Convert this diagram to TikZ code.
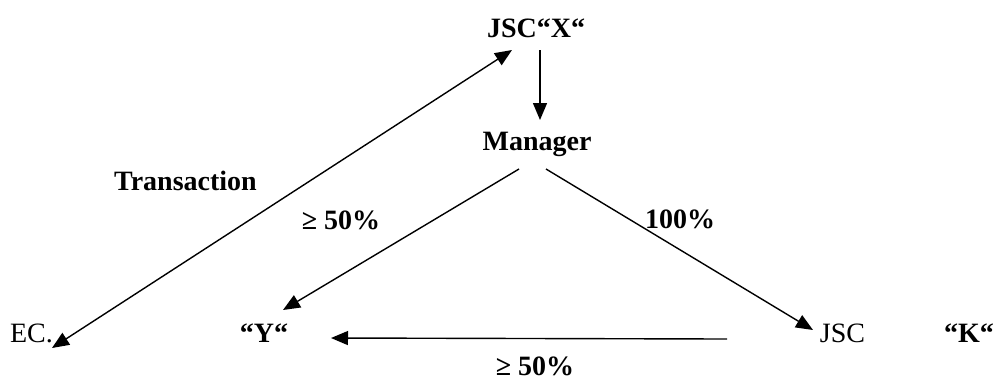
\documentclass[tikz,border=0pt]{standalone}
\usepackage{fontspec}
\setmainfont{Liberation Serif}
\usetikzlibrary{arrows.meta}
\begin{document}
\begin{tikzpicture}[x=0.5pt,y=-0.5pt,
  lbl/.style={inner sep=0pt,outer sep=0pt,anchor=base,font=\fontsize{14}{16}\selectfont\bfseries},
  plain/.style={inner sep=0pt,outer sep=0pt,anchor=base,font=\fontsize{14}{16}\selectfont},
  conn/.style={line width=0.7pt,-{Triangle[length=8.5pt,width=7pt]}},
  biconn/.style={line width=0.7pt,{Triangle[length=8.5pt,width=7pt]}-{Triangle[length=8.5pt,width=7pt]}}]
\path[use as bounding box] (0,0) rectangle (995,381);
% nodes
\node[lbl] (x) at (536,37) {JSC“X“};
\node[lbl] (mgr) at (537,150.5) {Manager};
\node[lbl] (trans) at (185.5,190) {Transaction};
\node[lbl] (pleft) at (341,229) {≥ 50\%};
\node[lbl] (pright) at (680,228) {100\%};
\node[plain] (ec) at (31.5,342) {EC.};
\node[lbl] (y) at (264,342) {“Y“};
\node[plain] (jsc) at (842.5,342) {JSC};
\node[lbl] (k) at (969,342) {“K“};
\node[lbl] (pbot) at (535,375) {≥ 50\%};
% endpoints
\coordinate (xL) at ([shift={(-24,13)}]x.base);
\coordinate (xB) at ([shift={(4,13)}]x.base);
\coordinate (mT) at ([shift={(3,-30.5)}]mgr.base);
\coordinate (mL) at ([shift={(-18,18.5)}]mgr.base);
\coordinate (mR) at ([shift={(9,18.5)}]mgr.base);
\coordinate (ecT) at ([shift={(20.5,6)}]ec.base);
\coordinate (yT) at ([shift={(19,-32)}]y.base);
\coordinate (yR) at ([shift={(67,-4)}]y.base);
\coordinate (jT) at ([shift={(-29.5,-12)}]jsc.base);
\coordinate (jL) at ([shift={(-115.5,-3)}]jsc.base);
% connectors
\draw[biconn] (ecT) -- (xL);
\draw[conn] (xB) -- (mT);
\draw[conn] (mL) -- (yT);
\draw[conn] (mR) -- (jT);
\draw[conn] (jL) -- (yR);
\end{tikzpicture}
\end{document}
